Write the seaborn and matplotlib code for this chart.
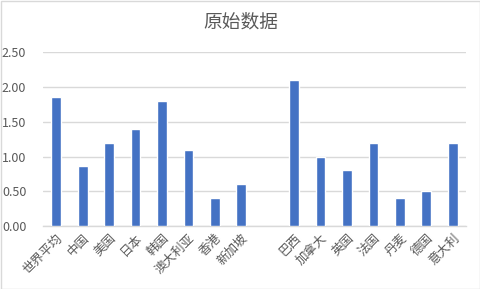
import matplotlib
matplotlib.use("Agg")
import matplotlib.pyplot as plt
import seaborn as sns
import pandas as pd
import numpy as np
from matplotlib.patches import Rectangle

categories = ["世界平均", "中国", "美国", "日本", "韩国", "澳大利亚", "香港", "新加坡", " ",
              "巴西", "加拿大", "英国", "法国", "丹麦", "德国", "意大利"]
values = [1.85, 0.87, 1.20, 1.40, 1.80, 1.10, 0.40, 0.60, np.nan,
          2.10, 1.00, 0.80, 1.20, 0.40, 0.50, 1.20]
yticks = [0.0, 0.5, 1.0, 1.5, 2.0, 2.5]
title = "原始数据"

sns.set_theme(style="white")
plt.rcParams['font.family'] = ['Noto Sans CJK SC', 'DejaVu Sans']

df = pd.DataFrame({"cat": categories, "val": values})

fig = plt.figure(figsize=(4.81, 2.89), dpi=100)
ax = fig.add_axes([43/481, 1-226/289, (466-43)/481, (226-52.3)/289])

sns.barplot(data=df, x="cat", y="val", order=categories, color="#4472C4",
            width=0.37, saturation=1, ax=ax, zorder=3)

ax.set_ylim(0, 2.5)
ax.set_xlim(-0.5, len(categories) - 0.5)
ax.set_yticks(yticks)
ax.set_yticklabels([f"{v:.2f}" for v in yticks], color="#595959", fontsize=9)
ax.yaxis.grid(True, color="#D9D9D9", linewidth=1, zorder=0)
ax.set_axisbelow(True)
for s in ["top", "right", "left"]:
    ax.spines[s].set_visible(False)
ax.spines["bottom"].set_color("#D9D9D9")
ax.spines["bottom"].set_linewidth(1)
ax.tick_params(axis="both", length=0, pad=4)
ax.set_xlabel("")
ax.set_ylabel("")
ax.set_xticks(range(len(categories)))
ax.set_xticklabels(categories, rotation=45, ha="right", rotation_mode="anchor",
                   color="#595959", fontsize=9)
ax.tick_params(axis="y", pad=12)

fig.text(0.5, 1 - 22/289, title, ha="center", va="center", fontsize=13.5, color="#595959")

fig.patches.append(Rectangle((0.5/481, 0.5/289), 1 - 1.5/481, 1 - 1.5/289, transform=fig.transFigure,
                             fill=False, edgecolor="#D9D9D9", linewidth=1))

fig.savefig("out.png", dpi=100)
